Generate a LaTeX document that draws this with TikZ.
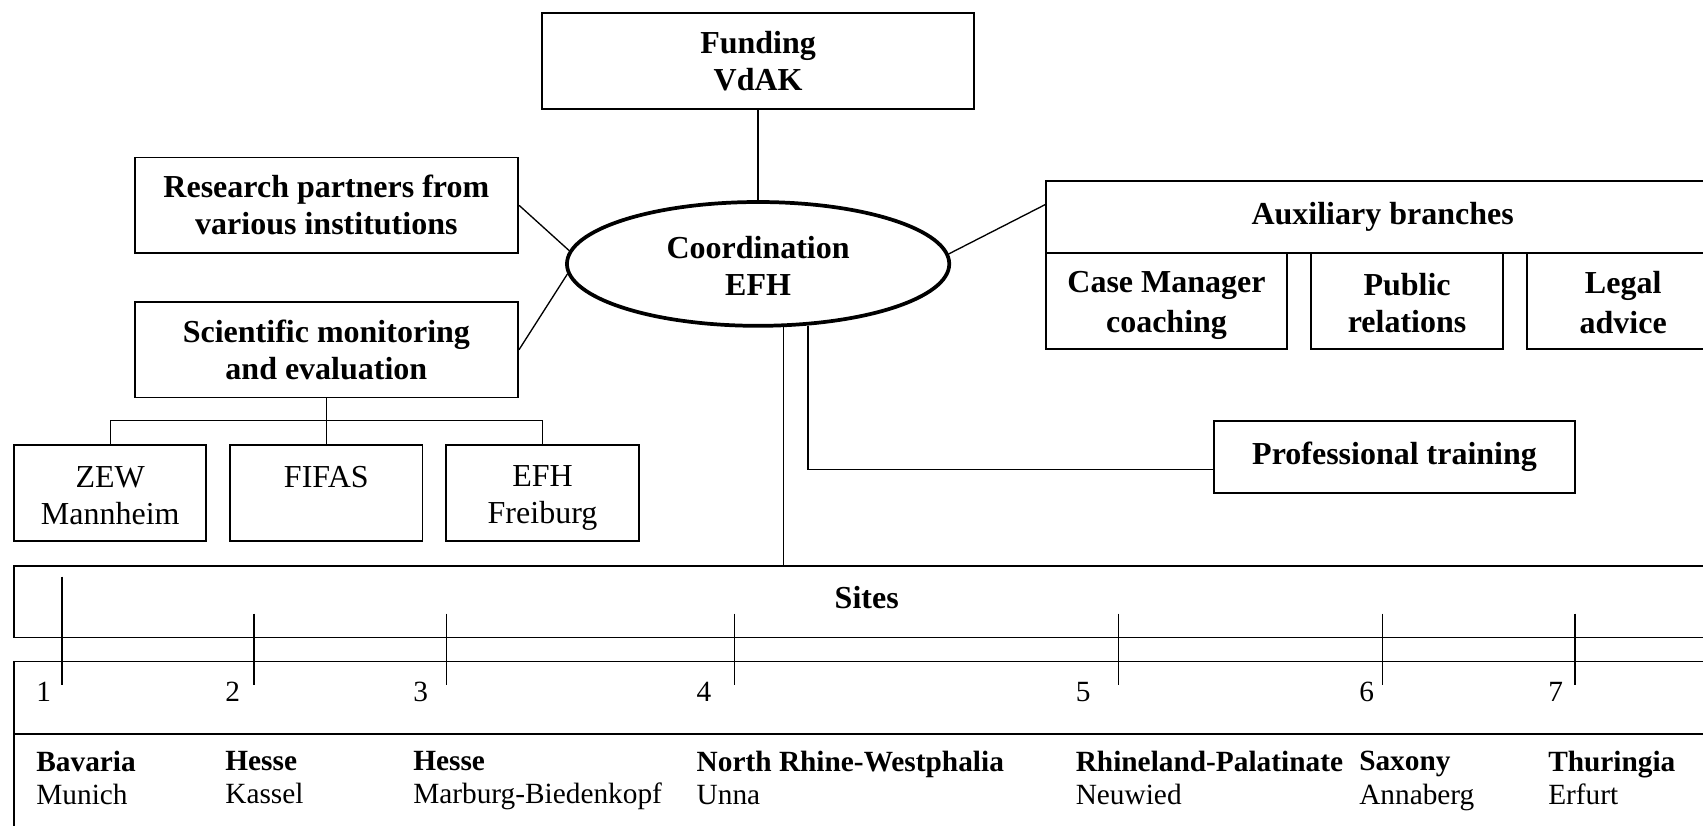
\documentclass[tikz,border=0pt]{standalone}
\usepackage{fontspec}
\setmainfont{Liberation Serif}
\usetikzlibrary{shapes.geometric,calc}
\newcommand\pxu{0.4073pt}
\newcommand\lstrut{\rule[-1.8pt]{0pt}{13.3pt}}

\begin{document}
\begin{tikzpicture}[x=0.4073pt,y=-0.4073pt]
\tikzset{box style/.style = {draw, line width=0.7pt, inner sep=0pt, align=center, font=\fontsize{12}{13.8}\selectfont\bfseries},
  thin style/.style = {box style, font=\fontsize{12}{13.8}\selectfont},
  site style/.style = {inner sep=0pt, align=left, font=\fontsize{11}{12.6}\selectfont},
  link style/.style = {line width=0.5pt}}
\path[use as bounding box, clip] (0,0) rectangle (1568,760);
\node[box style, minimum width=398*\pxu, minimum height=88*\pxu] (fund) at (698,56) {Funding\\VdAK};
\node[box style, ellipse, line width=1.4pt, minimum width=352*\pxu, minimum height=114*\pxu] (coord) at (698,243) {\lstrut Coordination\\\lstrut EFH};
\node[box style, minimum width=353*\pxu, minimum height=88*\pxu] (res) at (300.5,189) {Research partners from\\various institutions};
\node[box style, minimum width=353*\pxu, minimum height=88*\pxu] (sci) at (300.5,322) {Scientific monitoring\\and evaluation};
\node[thin style, minimum width=177*\pxu, minimum height=88*\pxu] (zew) at (101.5,454) {\lstrut ZEW\\\lstrut Mannheim};
\node[thin style, minimum width=177*\pxu, minimum height=88*\pxu] (fifas) at (300.5,454) {\lstrut FIFAS\\\lstrut};
\node[thin style, minimum width=177*\pxu, minimum height=88*\pxu] (efh) at (499.5,454) {\lstrut EFH\\\lstrut Freiburg};
\node[box style, minimum width=620*\pxu, minimum height=66*\pxu] (aux) at (1273,200) {Auxiliary branches};
\node[box style, minimum width=222*\pxu, minimum height=88*\pxu] (casem) at (1074,277) {\lstrut Case Manager\\\lstrut coaching};
\node[box style, minimum width=177*\pxu, minimum height=88*\pxu] (pubrel) at (1295.5,277) {\lstrut Public\\\lstrut relations};
\node[box style, minimum width=177*\pxu, minimum height=88*\pxu] (legal) at (1494.5,277) {\lstrut Legal\\\lstrut advice};
\node[box style, minimum width=332*\pxu, minimum height=66*\pxu] (prof) at (1284,421) {Professional training};
\node[box style, minimum width=1570*\pxu, minimum height=66*\pxu] (sites) at (798,554) {Sites\rule[-3pt]{0pt}{0pt}};
\node[box style, minimum width=1570*\pxu, minimum height=67*\pxu] (numrow) at (798,642.5) {};
\node[box style, minimum width=1570*\pxu, minimum height=104*\pxu] (staterow) at (798,728) {};
\draw[link style] (fund.south) -- (coord.north);
\draw[link style] (res.east) -- (coord.176.4);
\draw[link style] (sci.east) -- (coord.183.9);
\draw[link style] (coord.3.2) -- ($(aux.north west)!0.33!(aux.south west)$);
\draw[link style] (sci.south) -- (fifas.north);
\draw[link style] (zew.north) |- ++(0,-22) -| (efh.north);
\draw[link style] (coord.-68) -- (coord.-68 |- sites.north);
\draw[link style] (coord.-51.3) |- ([yshift=-4.5pt]prof.west);
\foreach \cx/\tx/\ty/\n/\st/\ci in {33/57/531/1/Bavaria/Munich, 207/234/565/2/Hesse/Kassel, 380/411/565/3/Hesse/Marburg-Biedenkopf, 641/676/565/4/North Rhine-Westphalia/Unna, 990/1030/565/5/Rhineland-Palatinate/Neuwied, 1251/1273/565/6/Saxony/Annaberg, 1425/1450/565/7/Thuringia/Erfurt}{
  \draw[link style] (\tx,\ty) -- (\tx,631);
  \node[site style, anchor=base west] (num\n) at (\cx,646) {\n};
  \node[site style, anchor=north west] (site\n) at (\cx,691) {\textbf{\st}\\\ci};
}
\end{tikzpicture}
\end{document}
